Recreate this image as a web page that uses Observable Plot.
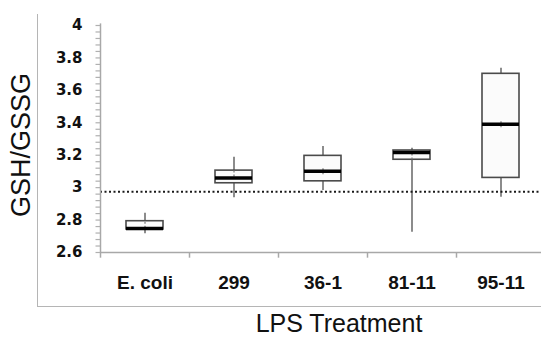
<!DOCTYPE html>
<html><head><meta charset="utf-8">
<script src="https://cdn.jsdelivr.net/npm/d3@7"></script>
<script src="https://cdn.jsdelivr.net/npm/@observablehq/plot@0.6"></script>
<style>
html,body{margin:0;padding:0;background:#fff;overflow:hidden}
#wrap{position:relative;width:541px;height:337px;overflow:hidden}
#frame{position:absolute;left:37px;top:14px;width:520px;height:292px;border-left:1.5px solid #b5b5b5;border-bottom:1.5px solid #b5b5b5;pointer-events:none}
#wrap svg{position:absolute;left:0;top:0}
</style></head><body><div id="wrap"><div id="frame"></div></div>
<script>
const categories = ["E. coli", "299", "36-1", "81-11", "95-11"];
const whiskerLow  = [2.715, 2.937, 2.982, 2.725, 2.941];
const q1          = [2.742, 3.027, 3.039, 3.172, 3.060];
const median      = [2.748, 3.060, 3.101, 3.217, 3.391];
const q3          = [2.793, 3.105, 3.196, 3.229, 3.702];
const whiskerHigh = [2.842, 3.188, 3.254, 3.243, 3.737];
const means       = [2.770, 3.085, 3.100, 3.190, 3.390];
const reference = 2.975;
const yTicks = [2.6, 2.8, 3, 3.2, 3.4, 3.6, 3.8, 4];
const yMinorTicks = d3.range(0, 36).map(i => +(2.6 + i * 0.04).toFixed(2));
const yTitle = "GSH/GSSG";
const xTitle = "LPS Treatment";

const rows = categories.map((c, i) => ({
  cat: c, lo: whiskerLow[i], q1: q1[i], med: median[i], q3: q3[i], hi: whiskerHigh[i], mean: means[i]
}));

const font = "'Liberation Sans', Arial, sans-serif";
const bw = (545 - 100) / categories.length;

const chart = Plot.plot({
  width: 541,
  height: 337,
  marginLeft: 100,
  marginRight: 0,
  marginTop: 25,
  marginBottom: 85,
  style: {fontFamily: font, background: "transparent", overflow: "visible"},
  x: {type: "band", domain: categories, range: [100, 545], padding: 0},
  y: {domain: [2.6, 4], range: [252, 25]},
  marks: [
    // whiskers
    Plot.ruleX(rows, {x: "cat", y1: "lo", y2: "hi", stroke: "#666", strokeWidth: 1.5}),
    // boxes
    Plot.barY(rows, {x: "cat", y1: "q1", y2: "q3", fill: "#fbfbfb", stroke: "#4a4a4a", strokeWidth: 1.6, insetLeft: 26, insetRight: 26}),
    // mean marks
    Plot.ruleX(rows, {x: "cat", y1: d => d.mean - 0.02, y2: d => d.mean + 0.02, stroke: "#777", strokeWidth: 1.2, strokeDasharray: "2,2"}),
    // medians
    Plot.tickY(rows, {x: "cat", y: "med", stroke: "#000", strokeWidth: 3.5, insetLeft: 26, insetRight: 26}),
    // reference dotted line
    Plot.ruleY([reference], {stroke: "#1a1a1a", strokeWidth: 2, strokeDasharray: "2,2.5"}),
    // x axis line
    Plot.ruleY([2.6], {stroke: "#a8a8a8", strokeWidth: 1.5}),
    // y axis line
    Plot.ruleX([categories[0]], {x: d => d, dx: -bw / 2, y1: 2.6, y2: 4.01, stroke: "#a8a8a8", strokeWidth: 1.5}),
    // x boundary ticks
    Plot.ruleX(categories, {x: d => d, dx: -bw / 2, y1: 2.6, y2: 2.565, stroke: "#a8a8a8", strokeWidth: 1.5}),
    // y minor ticks
    Plot.axisY({ticks: yMinorTicks, tickSize: 4.5, stroke: "#b0b0b0", strokeWidth: 1.2, text: null, label: null}),
    // y tick labels
    Plot.axisY({ticks: yTicks, tickSize: 0, tickPadding: 18, tickFormat: d => String(d), fontSize: 15, fontWeight: "bold", fontFamily: "'DejaVu Sans', sans-serif", fill: "#111", label: null}),
    // x tick labels
    Plot.axisX({tickSize: 0, tickPadding: 23, fontSize: 19, fontWeight: "bold", fill: "#111", label: null}),
    // titles
    Plot.text([yTitle], {frameAnchor: "left", dx: -79, dy: 6, rotate: -90, textAnchor: "middle", lineAnchor: "middle", fontSize: 27, fill: "#111", text: d => d}),
    Plot.text([xTitle], {frameAnchor: "bottom", dx: 18, dy: 71, textAnchor: "middle", lineAnchor: "middle", fontSize: 25, fill: "#111", text: d => d})
  ]
});
document.getElementById("wrap").appendChild(chart);
</script></body></html>
